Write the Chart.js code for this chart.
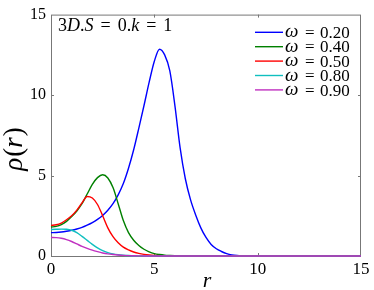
<!DOCTYPE html>
<html>
<head>
<meta charset="utf-8">
<script src="https://cdn.jsdelivr.net/npm/chart.js@4.4.1/dist/chart.umd.min.js"></script>
<style>
  body { margin: 0; background: #fff; }
</style>
</head>
<body>
<canvas id="myChart" width="374" height="290"></canvas>
<script>
// r grid
const rValues = [0, 0.25, 0.5, 0.75, 1, 1.25, 1.5, 1.75, 2, 2.25, 2.5, 2.75, 3, 3.25, 3.5, 3.75,
  4, 4.25, 4.5, 4.75, 5, 5.25, 5.5, 5.75, 6, 6.25, 6.5, 6.75, 7, 7.25, 7.5, 7.75,
  8, 8.25, 8.5, 8.75, 9, 9.25, 9.5, 9.75, 10, 15];

const omegaLabels = ['0.20', '0.40', '0.50', '0.80', '0.90'];

const rhoW020 = [1.45, 1.46, 1.49, 1.54, 1.6, 1.68, 1.78, 1.92, 2.08, 2.28, 2.52, 2.84, 3.25, 3.8, 4.5, 5.45,
  6.6, 7.95, 9.35, 10.8, 12.1, 12.85, 12.5, 11.5, 9.3, 6.7, 4.8, 3.5, 2.55, 1.75, 1.15, 0.72,
  0.45, 0.28, 0.15, 0.07, 0.03, 0.01, 0, 0, 0, 0];
const rhoW040 = [1.8, 1.84, 1.95, 2.15, 2.45, 2.8, 3.25, 3.85, 4.45, 4.87, 5.05, 4.85, 4.25, 3.25, 2.2, 1.45,
  0.98, 0.65, 0.42, 0.26, 0.15, 0.09, 0.05, 0.03, 0.015, 0.005, 0, 0, 0, 0, 0, 0,
  0, 0, 0, 0, 0, 0, 0, 0, 0, 0];
const rhoW050 = [1.9, 1.94, 2.05, 2.25, 2.5, 2.85, 3.3, 3.7, 3.6, 3.2, 2.5, 1.75, 1.2, 0.82, 0.55, 0.38,
  0.25, 0.16, 0.1, 0.06, 0.035, 0.02, 0.01, 0.005, 0, 0, 0, 0, 0, 0, 0, 0,
  0, 0, 0, 0, 0, 0, 0, 0, 0, 0];
const rhoW080 = [1.65, 1.66, 1.67, 1.66, 1.6, 1.45, 1.22, 0.97, 0.72, 0.5, 0.33, 0.21, 0.13, 0.08, 0.05, 0.03,
  0.015, 0.008, 0.004, 0, 0, 0, 0, 0, 0, 0, 0, 0, 0, 0, 0, 0,
  0, 0, 0, 0, 0, 0, 0, 0, 0, 0];
const rhoW090 = [1.15, 1.14, 1.1, 1.02, 0.9, 0.75, 0.6, 0.47, 0.36, 0.27, 0.19, 0.13, 0.09, 0.06, 0.04, 0.025,
  0.015, 0.008, 0.004, 0, 0, 0, 0, 0, 0, 0, 0, 0, 0, 0, 0, 0,
  0, 0, 0, 0, 0, 0, 0, 0, 0, 0];

const xTicks = [0, 5, 10, 15];
const yTicks = [0, 5, 10, 15];

const seriesColors = ['#0000ff', '#008000', '#ff0000', '#10bfbf', '#c030c0'];
const allRho = [rhoW020, rhoW040, rhoW050, rhoW080, rhoW090];

const SERIF = '"Times New Roman", "Liberation Serif", Times, serif';
const boxColor = '#777';

Chart.defaults.font.family = SERIF;

const toPoints = (ys) => rValues.map((r, i) => ({ x: r, y: ys[i] }));

// box + inward ticks (matlab style), drawn under the curves
const boxPlugin = {
  id: 'box',
  beforeDatasetsDraw(chart) {
    const ctx = chart.ctx;
    const a = chart.chartArea;
    const xs = chart.scales.x, ys = chart.scales.y;
    ctx.save();
    ctx.strokeStyle = boxColor;
    ctx.lineWidth = 1;
    ctx.strokeRect(a.left + 0.5, a.top + 0.5, a.right - a.left - 1, a.bottom - a.top);
    ctx.beginPath();
    xTicks.slice(1, -1).forEach(v => {
      const px = Math.round(xs.getPixelForValue(v)) + 0.5;
      ctx.moveTo(px, a.bottom); ctx.lineTo(px, a.bottom - 3);
      ctx.moveTo(px, a.top); ctx.lineTo(px, a.top + 3);
    });
    yTicks.slice(1, -1).forEach(v => {
      const py = Math.round(ys.getPixelForValue(v)) + 0.5;
      ctx.moveTo(a.left, py); ctx.lineTo(a.left + 3, py);
      ctx.moveTo(a.right, py); ctx.lineTo(a.right - 3, py);
    });
    ctx.stroke();
    ctx.restore();
  }
};

// drawing math-ish text in pieces
const drawPieces = (ctx, pieces, x, y) => {
  pieces.forEach(p => {
    ctx.font = p.font;
    x += p.before || 0;
    ctx.fillText(p.t, x, y);
    x += ctx.measureText(p.t).width + (p.after || 0);
  });
  return x;
};

const textPlugin = {
  id: 'texts',
  afterDatasetsDraw(chart) {
    const ctx = chart.ctx;
    ctx.save();
    ctx.fillStyle = '#000';
    ctx.textBaseline = 'alphabetic';
    ctx.textAlign = 'left';

    const up = '18px ' + SERIF, it = 'italic 18px ' + SERIF;
    drawPieces(ctx, [
      { t: '3', font: up }, { t: 'D', font: it }, { t: '.', font: up }, { t: 'S', font: it },
      { t: '=', font: up, before: 7, after: 7 },
      { t: '0.', font: up }, { t: 'k', font: it },
      { t: '=', font: up, before: 7, after: 7 },
      { t: '1', font: up }
    ], 58, 30.5);

    // legend
    chart.data.datasets.forEach((ds, i) => {
      const yy = 32.3 + i * 14.4;
      ctx.strokeStyle = ds.borderColor;
      ctx.lineWidth = 1.4;
      ctx.beginPath();
      ctx.moveTo(255, yy); ctx.lineTo(283, yy);
      ctx.stroke();
      ctx.font = 'italic 19px ' + SERIF;
      ctx.fillText('\u03c9', 285, yy + 5);
      ctx.font = '17px ' + SERIF;
      ctx.fillText('=', 305, yy + 5.6);
      ctx.fillText(omegaLabels[i], 320, yy + 5.6);
    });

    // axis titles
    ctx.font = 'italic 22px ' + SERIF;
    ctx.textAlign = 'center';
    ctx.fillText('r', 207, 287);

    ctx.translate(15, 149);
    ctx.rotate(-Math.PI / 2);
    ctx.textBaseline = 'middle';
    ctx.textAlign = 'left';
    const itBig = 'italic 27px ' + SERIF, upBig = '27px ' + SERIF;
    const w = ['\u03c1', '(', 'r', ')'].reduce((s, t, k) => {
      ctx.font = (k % 2 === 0) ? itBig : upBig;
      return s + ctx.measureText(t).width;
    }, 0);
    drawPieces(ctx, [
      { t: '\u03c1', font: itBig }, { t: '(', font: upBig, before: 1 },
      { t: 'r', font: itBig }, { t: ')', font: upBig, before: 1 }
    ], -w / 2 - 1, 0);
    ctx.restore();
  }
};

const ctx = document.getElementById('myChart').getContext('2d');
const myChart = new Chart(ctx, {
  type: 'line',
  data: {
    datasets: allRho.map((ys, i) => ({
      label: '\u03c9 = ' + omegaLabels[i],
      data: toPoints(ys),
      borderColor: seriesColors[i],
      borderWidth: 1.4,
      pointRadius: 0,
      fill: false,
      cubicInterpolationMode: 'monotone',
      clip: 4,
      order: allRho.length - i
    }))
  },
  options: {
    responsive: false,
    animation: false,
    layout: { padding: { top: 13, right: 13, left: 0, bottom: 0 } },
    plugins: {
      legend: { display: false },
      tooltip: { enabled: false }
    },
    scales: {
      x: {
        type: 'linear',
        min: 0, max: 15,
        afterFit: (scale) => { scale.height = 34; },
        afterBuildTicks: (scale) => { scale.ticks = xTicks.map(v => ({ value: v })); },
        grid: { display: false, drawTicks: false },
        border: { display: false },
        ticks: {
          padding: 3,
          color: '#000',
          maxRotation: 0,
          font: { family: SERIF, size: 17 },
          callback: (v) => String(v)
        }
      },
      y: {
        type: 'linear',
        min: 0, max: 15,
        afterFit: (scale) => { scale.width = 51; },
        afterBuildTicks: (scale) => { scale.ticks = yTicks.map(v => ({ value: v })); },
        grid: { display: false, drawTicks: false },
        border: { display: false },
        ticks: {
          padding: 5,
          color: '#000',
          font: { family: SERIF, size: 16 },
          callback: (v) => String(v)
        }
      }
    }
  },
  plugins: [boxPlugin, textPlugin]
});
</script>
</body>
</html>
